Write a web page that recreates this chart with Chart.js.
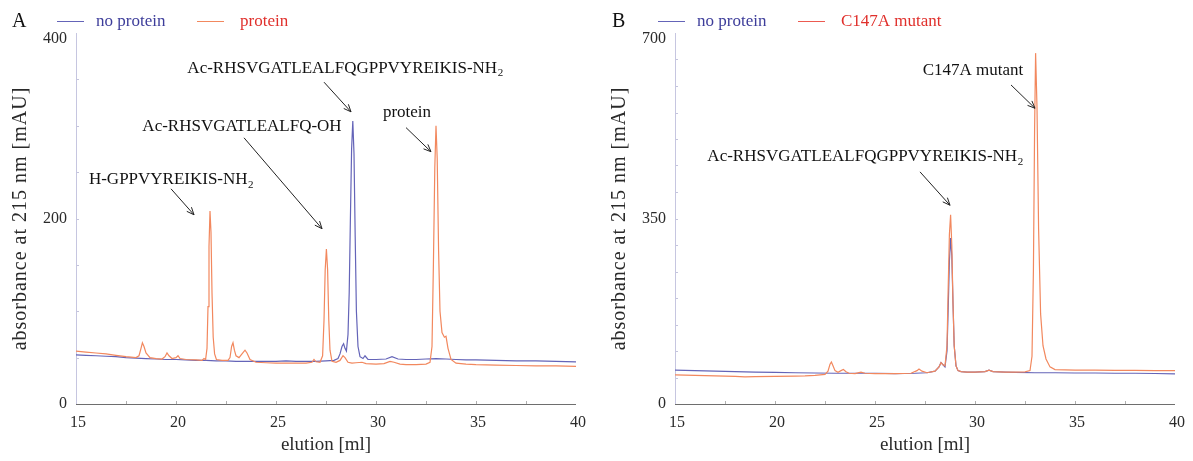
<!DOCTYPE html>
<html>
<head>
<meta charset="utf-8">
<script src="https://cdn.jsdelivr.net/npm/chart.js@4.4.1/dist/chart.umd.min.js"></script>
<style>
  body { margin: 0; background: #fff; }
  #wrap { position: relative; width: 1193px; height: 461px; }
  .panel { position: absolute; top: 0; height: 461px; }
  #panelA { left: 0; width: 597px; }
  #panelB { left: 597px; width: 596px; }
</style>
</head>
<body>
<div id="wrap">
  <div class="panel" id="panelA"><canvas id="chartA"></canvas></div>
  <div class="panel" id="panelB"><canvas id="chartB"></canvas></div>
</div>
<script>
// Tick labels
const xTickLabels = [15, 20, 25, 30, 35, 40];
const yTickLabelsA = [0, 200, 400];
const yTickLabelsB = [0, 350, 700];

// Panel A - no protein (elution ml / mAU)
const noProteinA_x = [15, 15.5, 16, 16.5, 17, 17.5, 18, 18.5, 19, 19.5, 20, 20.5, 21, 21.5, 22, 22.5, 23, 23.5, 24, 24.5, 25, 25.5, 26, 26.5, 27, 27.5, 27.9, 28.1, 28.2, 28.3, 28.38, 28.45, 28.52, 28.6, 28.66, 28.72, 28.78, 28.84, 28.9, 28.96, 29.02, 29.1, 29.2, 29.35, 29.45, 29.6, 30, 30.5, 30.8, 31.1, 31.5, 32, 32.5, 33, 33.5, 34, 34.5, 35, 36, 37, 38, 39, 40];
const noProteinA_y = [53, 52.5, 52, 51.5, 51, 50, 49.5, 49, 48.5, 48, 48, 47.5, 47, 47, 46.5, 46.5, 46, 46, 46, 46, 46, 46.5, 46, 46, 46, 46.5, 47, 49, 54, 62, 65, 60, 57, 75, 120, 200, 275, 305, 270, 180, 100, 62, 51, 49, 52, 48, 48, 48.5, 51, 48.5, 48, 48, 48.5, 49, 48.5, 48, 47.5, 47.5, 47, 46.5, 46.5, 46, 45.5];

// Panel A - protein
const proteinA_x = [15, 15.5, 16, 16.5, 17, 17.5, 18, 18.15, 18.25, 18.32, 18.4, 18.5, 18.7, 19, 19.3, 19.45, 19.55, 19.65, 19.8, 20.0, 20.1, 20.2, 20.5, 21, 21.3, 21.4, 21.48, 21.55, 21.6, 21.65, 21.7, 21.75, 21.8, 21.86, 21.93, 22.02, 22.3, 22.6, 22.7, 22.78, 22.85, 22.92, 23.0, 23.15, 23.3, 23.45, 23.55, 23.7, 24, 24.5, 25, 25.5, 26, 26.5, 26.8, 26.9, 27.0, 27.2, 27.33, 27.4, 27.46, 27.52, 27.58, 27.64, 27.7, 27.8, 28.0, 28.2, 28.35, 28.45, 28.6, 28.8, 29, 29.3, 29.5, 30, 30.4, 30.7, 30.9, 31.2, 31.5, 32, 32.5, 32.7, 32.8, 32.87, 32.94, 33.0, 33.06, 33.13, 33.2, 33.3, 33.42, 33.5, 33.6, 33.75, 34, 34.5, 35, 36, 37, 38, 39, 40];
const proteinA_y = [57, 56, 55, 54, 52.5, 51, 50, 52, 60, 66, 62, 55, 50, 49, 48.5, 51, 55, 52, 49, 50, 52, 49, 48, 47.5, 47, 49, 48, 60, 105, 170, 208, 185, 120, 72, 54, 48, 47, 47, 50, 62, 66, 58, 52, 50, 54, 58, 55, 48, 45, 44.5, 44, 44, 44, 44, 45, 48, 45.5, 45, 52, 90, 145, 167, 145, 90, 58, 46, 45, 47, 52, 50, 45, 44, 44.5, 45, 43.5, 43, 43.5, 46, 45, 43, 42.5, 42.5, 43, 45, 62, 150, 255, 300, 265, 165, 100, 77, 72, 73, 60, 48, 44, 43, 42.5, 42, 41.5, 41, 41, 40.5];

// Panel B - no protein
const noProteinB_x = [15, 16, 17, 18, 19, 20, 21, 22, 23, 24, 25, 26, 27, 27.6, 28.0, 28.2, 28.3, 28.4, 28.5, 28.6, 28.66, 28.72, 28.78, 28.84, 28.9, 28.96, 29.05, 29.15, 29.3, 29.6, 30, 30.5, 30.7, 30.9, 31.5, 32, 33, 34, 35, 36, 37, 38, 39, 40];
const noProteinB_y = [64, 63, 62, 61, 60, 59.5, 59, 58.5, 58, 58, 58, 57.5, 58, 59, 62, 70, 78, 74, 70, 100, 180, 270, 313, 280, 190, 110, 72, 63, 61, 60, 60, 61, 64, 61, 60, 59.5, 59, 59, 58.5, 58.5, 58, 58, 57.5, 57];

// Panel B - C147A mutant
const mutantB_x = [15, 16, 17, 18, 18.5, 19, 20, 21, 21.5, 22, 22.5, 22.65, 22.75, 22.82, 22.9, 23.0, 23.15, 23.3, 23.42, 23.55, 23.7, 24.0, 24.3, 24.5, 25, 26, 26.8, 27.1, 27.2, 27.35, 27.6, 28.0, 28.2, 28.3, 28.4, 28.5, 28.6, 28.66, 28.72, 28.78, 28.84, 28.9, 28.96, 29.05, 29.15, 29.3, 29.6, 30, 30.5, 30.7, 30.9, 31.5, 32, 32.5, 32.75, 32.85, 32.92, 32.98, 33.03, 33.1, 33.18, 33.28, 33.4, 33.55, 33.75, 34, 35, 36, 37, 38, 39, 40];
const mutantB_y = [55, 54, 53, 52, 51, 51.5, 52, 52.5, 53, 54, 56, 62, 75, 79, 72, 63, 60, 63, 65, 61, 58, 57.5, 60, 58, 57.5, 57.5, 58, 63, 66, 62, 59, 62, 70, 78, 74, 72, 110, 220, 320, 357, 300, 190, 110, 72, 63, 61, 60, 60, 61, 64, 61, 60, 60, 60.5, 63, 90, 250, 520, 662, 560, 330, 170, 110, 85, 70, 65, 64, 64, 63.5, 63.5, 63, 63];

// Annotations, in data coordinates (label centre, arrow tail, arrow head)
const annotationsA = [
  { text: 'Ac-RHSVGATLEALFQGPPVYREIKIS-NH', sub: '2', at: [28.45, 362], from: [27.4, 347], to: [28.75, 315] },
  { text: 'protein', sub: '', at: [31.55, 314], from: [31.5, 298], to: [32.75, 272] },
  { text: 'Ac-RHSVGATLEALFQ-OH', sub: '', at: [23.3, 299], from: [23.4, 287], to: [27.3, 189] },
  { text: 'H-GPPVYREIKIS-NH', sub: '2', at: [19.75, 242], from: [19.75, 232], to: [20.9, 204] }
];
const annotationsB = [
  { text: 'C147A mutant', sub: '', at: [29.9, 630], from: [31.8, 602], to: [33.0, 558] },
  { text: 'Ac-RHSVGATLEALFQGPPVYREIKIS-NH', sub: '2', at: [24.5, 466], from: [27.25, 438], to: [28.75, 375] }
];

const serif = '"Liberation Serif", "DejaVu Serif", serif';
const blueLine = '#6464b8';
const orangeLine = '#f2885e';

function toPoints(xs, ys) {
  return xs.map((x, i) => ({ x: x, y: ys[i] }));
}

function drawSubText(ctx, text, sub, cx, cy, size) {
  ctx.font = size + 'px ' + serif;
  const w1 = ctx.measureText(text).width;
  ctx.font = Math.round(size * 0.66) + 'px ' + serif;
  const w2 = sub ? ctx.measureText(sub).width : 0;
  const x = cx - (w1 + w2) / 2;
  ctx.textAlign = 'left';
  ctx.textBaseline = 'middle';
  ctx.font = size + 'px ' + serif;
  ctx.fillText(text, x, cy);
  if (sub) {
    ctx.font = Math.round(size * 0.66) + 'px ' + serif;
    ctx.fillText(sub, x + w1 + 0.5, cy + size * 0.3);
  }
}

function drawArrow(ctx, x1, y1, x2, y2) {
  ctx.beginPath();
  ctx.moveTo(x1, y1);
  ctx.lineTo(x2, y2);
  ctx.stroke();
  const ang = Math.atan2(y2 - y1, x2 - x1);
  const len = 8, spread = 0.4;
  ctx.beginPath();
  ctx.moveTo(x2 - len * Math.cos(ang - spread), y2 - len * Math.sin(ang - spread));
  ctx.lineTo(x2, y2);
  ctx.lineTo(x2 - len * Math.cos(ang + spread), y2 - len * Math.sin(ang + spread));
  ctx.stroke();
}

function chromPlugin(opts) {
  return {
    id: 'chrom',
    beforeDatasetsDraw(chart) {
      const ctx = chart.ctx;
      const xs = chart.scales.x, ys = chart.scales.y;
      const a = chart.chartArea;
      ctx.save();
      // minor ticks on y (every 50)
      ctx.strokeStyle = '#c4c4dc';
      ctx.lineWidth = 1;
      for (let v = 50; v < ys.max; v += 50) {
        const py = Math.round(ys.getPixelForValue(v)) + 0.5;
        ctx.beginPath(); ctx.moveTo(a.left, py); ctx.lineTo(a.left + 3, py); ctx.stroke();
      }
      // x ticks (every 2.5)
      ctx.strokeStyle = '#b0b0b0';
      for (let v = 17.5; v < 40; v += 2.5) {
        const px = Math.round(xs.getPixelForValue(v)) + 0.5;
        ctx.beginPath(); ctx.moveTo(px, a.bottom); ctx.lineTo(px, a.bottom - 3); ctx.stroke();
      }
      // axes
      ctx.strokeStyle = '#c6c6e0';
      ctx.beginPath(); ctx.moveTo(a.left + 0.5, a.top); ctx.lineTo(a.left + 0.5, a.bottom); ctx.stroke();
      ctx.strokeStyle = '#6e6e6e';
      ctx.beginPath(); ctx.moveTo(a.left, a.bottom + 0.5); ctx.lineTo(a.right, a.bottom + 0.5); ctx.stroke();
      ctx.restore();
    },
    afterDraw(chart) {
      const ctx = chart.ctx;
      const xs = chart.scales.x, ys = chart.scales.y;
      const a = chart.chartArea;
      ctx.save();
      // tick labels
      ctx.fillStyle = '#2a2a2a';
      ctx.font = '16px ' + serif;
      ctx.textAlign = 'center';
      ctx.textBaseline = 'middle';
      xTickLabels.forEach(v => ctx.fillText(String(v), xs.getPixelForValue(v) + 2, a.bottom + 19));
      ctx.textAlign = 'right';
      opts.yTicks.forEach((v, i) => {
        let py = ys.getPixelForValue(v);
        if (i === opts.yTicks.length - 1) py += 6;
        ctx.fillText(String(v), a.left - 9, py);
      });
      // axis titles
      ctx.font = '19px ' + serif;
      ctx.textAlign = 'center';
      ctx.fillText('elution [ml]', (a.left + a.right) / 2, a.bottom + 41);
      ctx.save();
      ctx.translate(a.left - 55, (a.top + a.bottom) / 2);
      ctx.rotate(-Math.PI / 2);
      ctx.font = '20px ' + serif;
      ctx.letterSpacing = '1px';
      ctx.fillText('absorbance at 215 nm [mAU]', 0, 0);
      ctx.restore();
      // panel letter
      ctx.font = '20px ' + serif;
      ctx.fillStyle = '#111';
      ctx.textAlign = 'left';
      ctx.fillText(opts.letter, opts.letterX, 22);
      // legend
      ctx.lineWidth = 1;
      ctx.strokeStyle = blueLine;
      ctx.beginPath(); ctx.moveTo(opts.legX, 21.5); ctx.lineTo(opts.legX + 27, 21.5); ctx.stroke();
      ctx.font = '17px ' + serif;
      ctx.fillStyle = '#3d3d9a';
      ctx.fillText('no protein', opts.legX + 39, 22);
      ctx.strokeStyle = opts.legLine2;
      ctx.beginPath(); ctx.moveTo(opts.legX + 140, 21.5); ctx.lineTo(opts.legX + 167, 21.5); ctx.stroke();
      ctx.fillStyle = '#e0302c';
      ctx.fillText(opts.label2, opts.legX + 183, 22);
      // annotations
      ctx.fillStyle = '#111';
      ctx.strokeStyle = '#222';
      ctx.lineWidth = 1;
      opts.annotations.forEach(an => {
        drawSubText(ctx, an.text, an.sub, xs.getPixelForValue(an.at[0]), ys.getPixelForValue(an.at[1]), 17);
        drawArrow(ctx, xs.getPixelForValue(an.from[0]), ys.getPixelForValue(an.from[1]),
          xs.getPixelForValue(an.to[0]), ys.getPixelForValue(an.to[1]));
      });
      ctx.restore();
    }
  };
}

function makeChart(id, series, yMax, padding, opts) {
  return new Chart(document.getElementById(id), {
    type: 'scatter',
    data: {
      datasets: series.map(s => ({
        label: s.label,
        data: s.data,
        showLine: true,
        borderColor: s.color,
        borderWidth: 1.2,
        pointRadius: 0,
        tension: 0,
        fill: false
      }))
    },
    options: {
      responsive: true,
      maintainAspectRatio: false,
      animation: false,
      layout: { padding: padding },
      plugins: { legend: { display: false }, tooltip: { enabled: false } },
      scales: {
        x: { type: 'linear', min: 15, max: 40, display: false },
        y: { type: 'linear', min: 0, max: yMax, display: false }
      }
    },
    plugins: [chromPlugin(opts)]
  });
}

makeChart('chartA', [
  { label: 'protein', data: toPoints(proteinA_x, proteinA_y), color: orangeLine },
  { label: 'no protein', data: toPoints(noProteinA_x, noProteinA_y), color: blueLine }
], 400, { left: 76, right: 21, top: 33, bottom: 57 }, {
  yTicks: yTickLabelsA, letter: 'A', letterX: 12, legX: 57, legLine2: orangeLine,
  label2: 'protein', annotations: annotationsA
});

makeChart('chartB', [
  { label: 'C147A mutant', data: toPoints(mutantB_x, mutantB_y), color: orangeLine },
  { label: 'no protein', data: toPoints(noProteinB_x, noProteinB_y), color: blueLine }
], 700, { left: 78, right: 18, top: 33, bottom: 57 }, {
  yTicks: yTickLabelsB, letter: 'B', letterX: 15, legX: 61, legLine2: '#ec5a50',
  label2: 'C147A mutant', annotations: annotationsB
});
</script>
</body>
</html>
